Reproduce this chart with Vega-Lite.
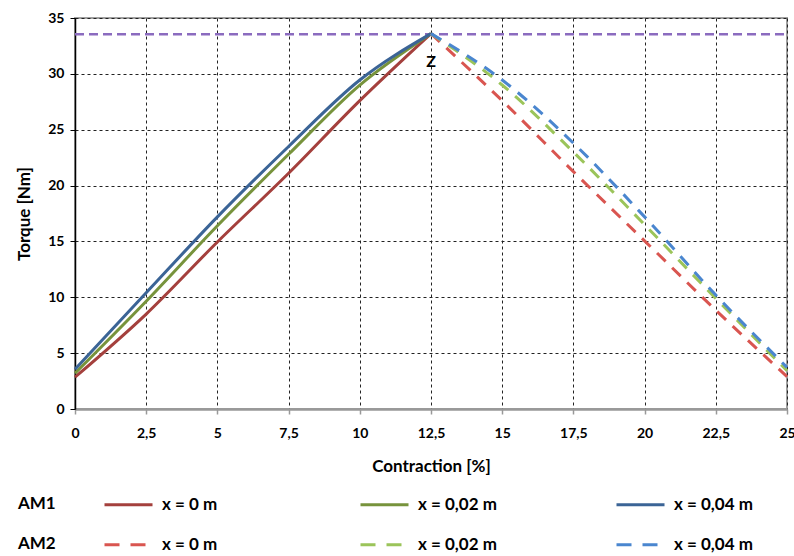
{
  "$schema": "https://vega.github.io/schema/vega-lite/v6.json",
  "width": 712,
  "height": 391,
  "autosize": {"type": "none"},
  "padding": {"left": 75, "top": 18, "right": 7, "bottom": 147},
  "background": "white",
  "config": {
    "font": "Lato",
    "view": {"stroke": "#a0a0a0", "strokeWidth": 2}
  },
  "datasets": {
    "am1": [
      {"series": "x = 0 m", "c": 0, "t": 2.85},
      {"series": "x = 0 m", "c": 2.5, "t": 8.5},
      {"series": "x = 0 m", "c": 5, "t": 14.95},
      {"series": "x = 0 m", "c": 7.5, "t": 21.1},
      {"series": "x = 0 m", "c": 10, "t": 27.6},
      {"series": "x = 0 m", "c": 12.5, "t": 33.6},
      {"series": "x = 0,02 m", "c": 0, "t": 3.2},
      {"series": "x = 0,02 m", "c": 2.5, "t": 9.65},
      {"series": "x = 0,02 m", "c": 5, "t": 16.4},
      {"series": "x = 0,02 m", "c": 7.5, "t": 22.8},
      {"series": "x = 0,02 m", "c": 10, "t": 29.0},
      {"series": "x = 0,02 m", "c": 12.5, "t": 33.6},
      {"series": "x = 0,04 m", "c": 0, "t": 3.55},
      {"series": "x = 0,04 m", "c": 2.5, "t": 10.4},
      {"series": "x = 0,04 m", "c": 5, "t": 17.2},
      {"series": "x = 0,04 m", "c": 7.5, "t": 23.5},
      {"series": "x = 0,04 m", "c": 10, "t": 29.45},
      {"series": "x = 0,04 m", "c": 12.5, "t": 33.6}
    ],
    "am2": [
      {"series": "x = 0 m", "c": 12.5, "t": 33.6},
      {"series": "x = 0 m", "c": 15, "t": 27.6},
      {"series": "x = 0 m", "c": 17.5, "t": 21.25},
      {"series": "x = 0 m", "c": 20, "t": 15.05},
      {"series": "x = 0 m", "c": 22.5, "t": 8.85},
      {"series": "x = 0 m", "c": 25, "t": 2.9},
      {"series": "x = 0,02 m", "c": 12.5, "t": 33.6},
      {"series": "x = 0,02 m", "c": 15, "t": 29.0},
      {"series": "x = 0,02 m", "c": 17.5, "t": 23.0},
      {"series": "x = 0,02 m", "c": 20, "t": 16.5},
      {"series": "x = 0,02 m", "c": 22.5, "t": 9.9},
      {"series": "x = 0,02 m", "c": 25, "t": 3.43},
      {"series": "x = 0,04 m", "c": 12.5, "t": 33.6},
      {"series": "x = 0,04 m", "c": 15, "t": 29.45},
      {"series": "x = 0,04 m", "c": 17.5, "t": 23.8},
      {"series": "x = 0,04 m", "c": 20, "t": 17.2},
      {"series": "x = 0,04 m", "c": 22.5, "t": 10.2},
      {"series": "x = 0,04 m", "c": 25, "t": 3.73}
    ],
    "limit": [
      {"c": 0, "t": 33.55},
      {"c": 25, "t": 33.55}
    ],
    "label": [
      {"c": 12.5, "t": 33.6, "text": "Z"}
    ]
  },
  "encoding": {
    "x": {
      "field": "c",
      "type": "quantitative",
      "title": "Contraction [%]",
      "scale": {"domain": [0, 25], "nice": false, "zero": false},
      "axis": {
        "values": [0, 2.5, 5, 7.5, 10, 12.5, 15, 17.5, 20, 22.5, 25],
        "labelExpr": "replace(format(datum.value, '~g'), '.', ',')",
        "labelFont": "Lato",
        "labelFontSize": 14,
        "labelFontWeight": "bold",
        "labelColor": "#000",
        "labelPadding": 12,
        "labelFlush": false,
        "labelOverlap": false,
        "tickSize": 5,
        "tickColor": "#999",
        "tickWidth": 1.5,
        "domainColor": "#999",
        "domainWidth": 2.5,
        "grid": true,
        "gridColor": "#222",
        "gridDash": [3, 3],
        "gridWidth": 1,
        "titleFont": "Lato",
        "titleFontSize": 17,
        "titleFontWeight": "bold",
        "titleColor": "#000",
        "titlePadding": 18
      }
    },
    "y": {
      "field": "t",
      "type": "quantitative",
      "title": "Torque [Nm]",
      "scale": {"domain": [0, 35], "nice": false},
      "axis": {
        "values": [0, 5, 10, 15, 20, 25, 30, 35],
        "labelFont": "Lato",
        "labelFontSize": 14,
        "labelFontWeight": "bold",
        "labelColor": "#000",
        "labelPadding": 6,
        "tickSize": 5,
        "tickColor": "#000",
        "domainColor": "#000",
        "domainWidth": 1.5,
        "grid": true,
        "gridColor": "#222",
        "gridDash": [3, 3],
        "gridWidth": 1,
        "titleFont": "Lato",
        "titleFontSize": 17,
        "titleFontWeight": "bold",
        "titleColor": "#000",
        "titlePadding": 14
      }
    }
  },
  "layer": [
    {
      "data": {"name": "limit"},
      "mark": {"type": "line", "color": "#8B6BBF", "strokeWidth": 2.5, "strokeDash": [9, 5]}
    },
    {
      "data": {"name": "am1"},
      "mark": {"type": "line", "strokeWidth": 3, "interpolate": "monotone"},
      "encoding": {
        "color": {
          "field": "series",
          "type": "nominal",
          "scale": {"domain": ["x = 0 m", "x = 0,02 m", "x = 0,04 m"], "range": ["#A4403D", "#77933C", "#3B6496"]},
          "legend": {
            "title": "AM1",
            "orient": "none",
            "legendX": -57,
            "legendY": 461,
            "direction": "horizontal",
            "columns": 3,
            "symbolType": "stroke",
            "symbolSize": 2304,
            "symbolStrokeWidth": 3,
            "titleOrient": "left",
            "titleAnchor": "start",
            "titleBaseline": "line-top",
            "titleLineHeight": 50,
            "titleFont": "Lato",
            "titleFontSize": 17,
            "titleFontWeight": "bold",
            "titleColor": "#000",
            "titlePadding": 47,
            "labelFont": "Lato",
            "labelFontSize": 17,
            "labelFontWeight": "bold",
            "labelColor": "#000",
            "labelOffset": 8,
            "labelLimit": 200,
            "columnPadding": 113,
            "gridAlign": "all"
          }
        }
      }
    },
    {
      "data": {"name": "am2"},
      "mark": {"type": "line", "strokeWidth": 3, "interpolate": "monotone", "strokeDash": [12, 9]},
      "encoding": {
        "color": {
          "field": "series",
          "type": "nominal",
          "scale": {"domain": ["x = 0 m", "x = 0,02 m", "x = 0,04 m"], "range": ["#D95550", "#9BC45A", "#4A86CF"]},
          "legend": {
            "title": "AM2",
            "orient": "none",
            "legendX": -57,
            "legendY": 501,
            "direction": "horizontal",
            "columns": 3,
            "symbolType": "stroke",
            "symbolSize": 2304,
            "symbolStrokeWidth": 3,
            "symbolDash": [15, 11],
            "titleOrient": "left",
            "titleAnchor": "start",
            "titleBaseline": "line-top",
            "titleLineHeight": 50,
            "titleFont": "Lato",
            "titleFontSize": 17,
            "titleFontWeight": "bold",
            "titleColor": "#000",
            "titlePadding": 47,
            "labelFont": "Lato",
            "labelFontSize": 17,
            "labelFontWeight": "bold",
            "labelColor": "#000",
            "labelOffset": 8,
            "labelLimit": 200,
            "columnPadding": 113,
            "gridAlign": "all"
          }
        }
      }
    },
    {
      "data": {"name": "label"},
      "mark": {"type": "text", "font": "Lato", "fontSize": 16, "fontWeight": "bold", "color": "#000", "dy": 28, "baseline": "middle"},
      "encoding": {"text": {"field": "text"}}
    }
  ],
  "resolve": {"scale": {"color": "independent"}}
}
